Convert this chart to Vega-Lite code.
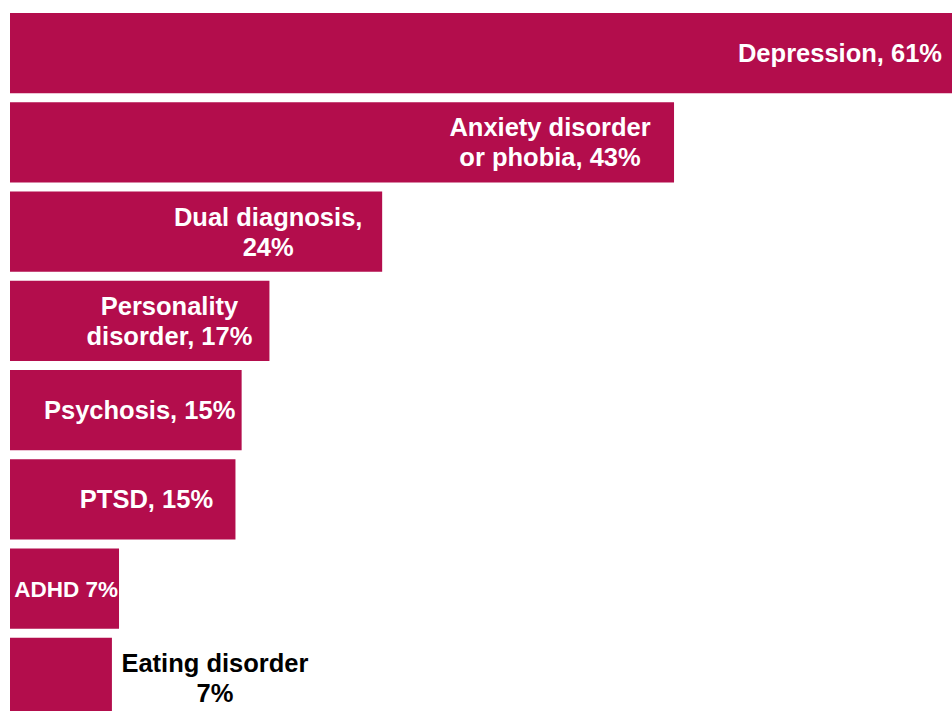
{
  "$schema": "https://vega.github.io/schema/vega-lite/v6.json",
  "autosize": {"type": "none"},
  "padding": {"left": 10, "top": 13, "right": 0, "bottom": 0},
  "width": 942,
  "height": 705,
  "background": "white",
  "config": {"view": {"stroke": null}},
  "data": {
    "values": [
      {"condition": "Depression", "value": 61, "label": "Depression, 61%"},
      {"condition": "Anxiety disorder or phobia", "value": 43, "label": "Anxiety disorder\nor phobia, 43%"},
      {"condition": "Dual diagnosis", "value": 24.1, "label": "Dual diagnosis,\n24%"},
      {"condition": "Personality disorder", "value": 16.8, "label": "Personality\ndisorder, 17%"},
      {"condition": "Psychosis", "value": 15.0, "label": "Psychosis, 15%"},
      {"condition": "PTSD", "value": 14.6, "label": "PTSD, 15%"},
      {"condition": "ADHD", "value": 7.06, "label": "ADHD 7%"},
      {"condition": "Eating disorder", "value": 6.6, "label": "Eating disorder\n7%"}
    ]
  },
  "encoding": {
    "y": {"field": "condition", "type": "nominal", "sort": null, "axis": null,
          "scale": {"paddingInner": 0.1, "paddingOuter": 0}},
    "x": {"field": "value", "type": "quantitative", "axis": null,
          "scale": {"domain": [0, 61], "nice": false, "zero": true}}
  },
  "layer": [
    {"mark": {"type": "bar", "color": "#B30D4C"}},
    {"transform": [{"filter": "datum.condition === 'Depression'"}],
     "mark": {"type": "text", "align": "center", "baseline": "middle", "dx": -112, "dy": 1, "font": "Liberation Sans", "fontWeight": "bold", "fontSize": 25.5, "color": "white", "lineBreak": "\n", "lineHeight": 30},
     "encoding": {"text": {"field": "label"}}},
    {"transform": [{"filter": "datum.condition === 'Anxiety disorder or phobia'"}],
     "mark": {"type": "text", "align": "center", "baseline": "middle", "dx": -124, "dy": -14, "font": "Liberation Sans", "fontWeight": "bold", "fontSize": 25.5, "color": "white", "lineBreak": "\n", "lineHeight": 30},
     "encoding": {"text": {"field": "label"}}},
    {"transform": [{"filter": "datum.condition === 'Dual diagnosis'"}],
     "mark": {"type": "text", "align": "center", "baseline": "middle", "dx": -114, "dy": -14, "font": "Liberation Sans", "fontWeight": "bold", "fontSize": 25.5, "color": "white", "lineBreak": "\n", "lineHeight": 30},
     "encoding": {"text": {"field": "label"}}},
    {"transform": [{"filter": "datum.condition === 'Personality disorder'"}],
     "mark": {"type": "text", "align": "center", "baseline": "middle", "dx": -100, "dy": -14, "font": "Liberation Sans", "fontWeight": "bold", "fontSize": 25.5, "color": "white", "lineBreak": "\n", "lineHeight": 30},
     "encoding": {"text": {"field": "label"}}},
    {"transform": [{"filter": "datum.condition === 'Psychosis'"}],
     "mark": {"type": "text", "align": "center", "baseline": "middle", "dx": -102, "dy": 1, "font": "Liberation Sans", "fontWeight": "bold", "fontSize": 25.5, "color": "white", "lineBreak": "\n", "lineHeight": 30},
     "encoding": {"text": {"field": "label"}}},
    {"transform": [{"filter": "datum.condition === 'PTSD'"}],
     "mark": {"type": "text", "align": "center", "baseline": "middle", "dx": -89, "dy": 1, "font": "Liberation Sans", "fontWeight": "bold", "fontSize": 25.5, "color": "white", "lineBreak": "\n", "lineHeight": 30},
     "encoding": {"text": {"field": "label"}}},
    {"transform": [{"filter": "datum.condition === 'ADHD'"}],
     "mark": {"type": "text", "align": "center", "baseline": "middle", "dx": -53, "dy": 1, "font": "Liberation Sans", "fontWeight": "bold", "fontSize": 22.5, "color": "white", "lineBreak": "\n", "lineHeight": 30},
     "encoding": {"text": {"field": "label"}}},
    {"transform": [{"filter": "datum.condition === 'Eating disorder'"}],
     "mark": {"type": "text", "align": "center", "baseline": "middle", "dx": 103, "dy": -14, "font": "Liberation Sans", "fontWeight": "bold", "fontSize": 25.5, "color": "black", "lineBreak": "\n", "lineHeight": 30},
     "encoding": {"text": {"field": "label"}}}
  ]
}
